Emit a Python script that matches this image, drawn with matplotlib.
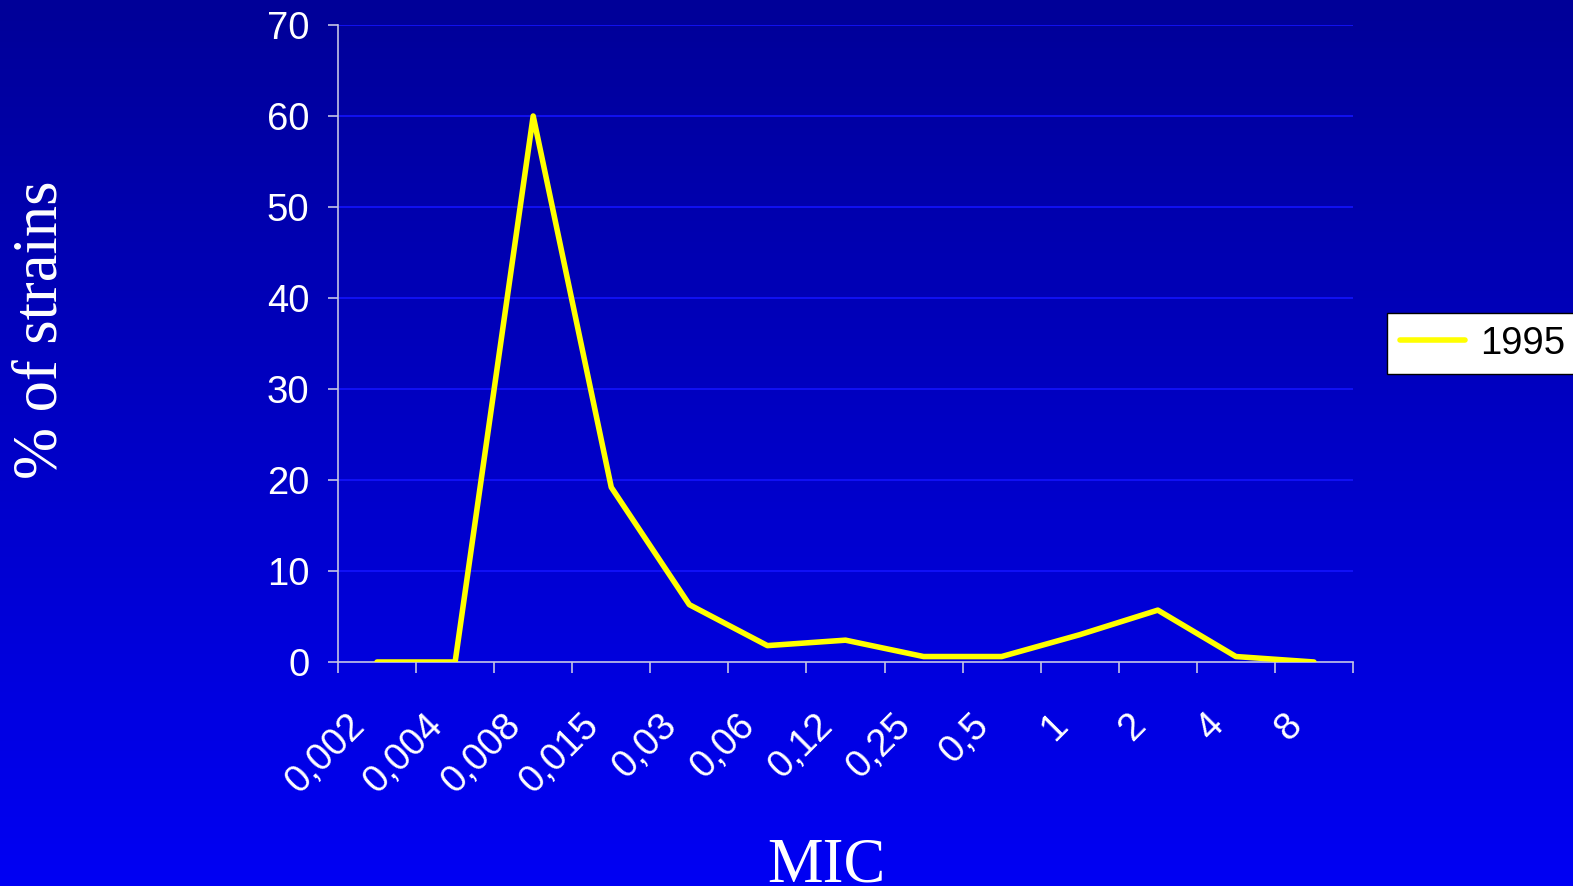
import numpy as np
import matplotlib
matplotlib.use("Agg")
import matplotlib.pyplot as plt
from matplotlib.colors import LinearSegmentedColormap
from matplotlib.transforms import ScaledTranslation

# MIC distribution (% of strains) for 1995
mic_labels = ["0,002", "0,004", "0,008", "0,015", "0,03", "0,06", "0,12",
              "0,25", "0,5", "1", "2", "4", "8"]
pct_1995 = [0, 0, 60, 19.2, 6.3, 1.8, 2.4, 0.6, 0.6, 3.0, 5.7, 0.6, 0]
series_name = "1995"
y_ticks = [0, 10, 20, 30, 40, 50, 60, 70]

W, H, DPI = 1573, 886, 100
fig = plt.figure(figsize=(W / DPI, H / DPI), dpi=DPI)

# vertical blue gradient background
bg = fig.add_axes([0, 0, 1, 1], zorder=-10)
grad = np.linspace(0, 1, 256).reshape(-1, 1)
cmap = LinearSegmentedColormap.from_list("bg", ["#000098", "#0000F4"])
bg.imshow(grad, aspect="auto", cmap=cmap, extent=[0, 1, 0, 1], origin="upper")
bg.set_axis_off()

left, right, top, bottom = 338, 1353, 25, 662
ax = fig.add_axes([left / W, 1 - bottom / H, (right - left) / W, (bottom - top) / H])
ax.patch.set_alpha(0)

x = np.arange(len(mic_labels))
ax.plot(x, pct_1995, color="#FFFF00", lw=4.0, solid_joinstyle="round",
        solid_capstyle="round", label=series_name, zorder=3)

ax.set_xlim(-0.5, len(mic_labels) - 0.5)
ax.set_ylim(0, 70)

axis_col = "#C4C4E4"
for s in ["top", "right"]:
    ax.spines[s].set_visible(False)
for s in ["left", "bottom"]:
    ax.spines[s].set_color(axis_col)
    ax.spines[s].set_linewidth(1.2)

ax.set_yticks(y_ticks)
ax.yaxis.grid(True, color="#1414FF", lw=1.2, zorder=0)
ax.set_axisbelow(True)
ax.tick_params(axis="y", direction="out", length=7.2, width=1.2, color=axis_col,
               pad=13.5, labelsize=27.5, labelcolor="white")
for lab in ax.get_yticklabels():
    lab.set_family("Liberation Sans")

# category boundaries carry the tick marks, labels sit at category centres
ax.set_xticks(np.arange(-0.5, len(mic_labels)), minor=True)
ax.set_xticks(x)
ax.set_xticklabels(mic_labels, rotation=45, ha="right", va="center",
                   rotation_mode="anchor", family="Liberation Sans",
                   fontsize=27.5, color="white")
ax.tick_params(axis="x", which="major", length=0, pad=41.5)
ax.tick_params(axis="x", which="minor", direction="out", length=8, width=1.2,
               color=axis_col)
shift = ScaledTranslation(-18 / DPI, 0, fig.dpi_scale_trans)
for lab in ax.get_xticklabels():
    lab.set_transform(lab.get_transform() + shift)

fig.text(42 / W, 1 - 330 / H, "% of strains", rotation=90, ha="center",
         va="center", family="Liberation Serif", fontsize=45, color="white")
fig.text(826 / W, 1 - 882 / H, "MIC", ha="center", va="baseline",
         family="Liberation Serif", fontsize=45, color="white")

# legend box runs past the right edge of the figure
leg_x0, leg_top = 1387 / W, 1 - 313 / H
leg = fig.legend(loc="upper left", bbox_to_anchor=(leg_x0, leg_top - 0.1, 0.2, 0.1),
                 mode="expand", frameon=True, fancybox=False, borderaxespad=0,
                 borderpad=0.33, handlelength=1.7, handletextpad=0.42,
                 prop={"family": "Liberation Sans", "size": 27.5})
leg.get_frame().set_facecolor("white")
leg.get_frame().set_edgecolor("black")
leg.get_frame().set_linewidth(1.0)
leg.get_frame().set_alpha(1)

fig.savefig("out.png", dpi=DPI)
